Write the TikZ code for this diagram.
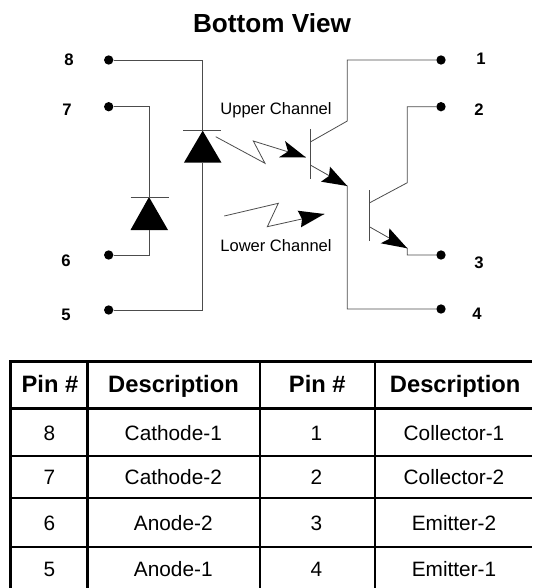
\documentclass[tikz,border=0pt]{standalone}
\usepackage{fontspec}
\setmainfont{Liberation Sans}
\usetikzlibrary{positioning, calc}

\begin{document}
\begin{tikzpicture}[x=0.75pt, y=-0.75pt, thin]
  \tikzstyle{wire} = [draw=black!70, line width=0.6pt]
  \tikzstyle{pin} = [circle, fill=black, inner sep=0pt, minimum size=7pt]
  \tikzstyle{pinnum} = [font=\bfseries\fontsize{12.5}{12.5}\selectfont, inner sep=0pt]
  \tikzstyle{chan} = [font=\fontsize{12.4}{13}\selectfont, inner sep=0pt]
  \tikzstyle{heavy} = [draw=black, line width=2pt]
  \tikzstyle{grid} = [draw=black, line width=1.4pt]
  \tikzstyle{cell} = [font=\fontsize{15.6}{16}\selectfont, inner sep=0pt, text height=11.2pt, text depth=0pt]
  \tikzstyle{head} = [font=\bfseries\fontsize{17.8}{18}\selectfont, inner sep=0pt, text height=12.8pt, text depth=0pt]

  \useasboundingbox (0,0) rectangle (532,588);

  \node[font=\bfseries\fontsize{19.6}{20}\selectfont, inner sep=0pt] (Title) at (272,23) {Bottom View};

  % pins
  \node[pin] (P8) at (108.7,60) {};
  \node[pin] (P7) at (108.7,106.7) {};
  \node[pin] (P6) at (108.7,255) {};
  \node[pin] (P5) at (108.7,310) {};
  \node[pin] (P1) at (441,60) {};
  \node[pin] (P2) at (441,106.7) {};
  \node[pin] (P3) at (441,255) {};
  \node[pin] (P4) at (441,309) {};
  \node[pinnum] (N8) at (69,60) {8};
  \node[pinnum] (N7) at (67,110) {7};
  \node[pinnum] (N6) at (66,261) {6};
  \node[pinnum] (N5) at (66,315) {5};
  \node[pinnum] (N1) at (481,59) {1};
  \node[pinnum] (N2) at (479,110) {2};
  \node[pinnum] (N3) at (479,263) {3};
  \node[pinnum] (N4) at (477,314) {4};

  % diodes
  \coordinate (D1k) at (202.7,130.7);
  \coordinate (D1a) at (202.7,162.7);
  \coordinate (D2k) at (149,197);
  \coordinate (D2a) at (149,230);
  \fill (D1k) -- (221.5,162.7) -- (183.9,162.7) -- cycle;
  \fill (D2k) -- (168,230) -- (130.5,230) -- cycle;
  \draw[wire] (183,130.7) -- (221,130.7);
  \draw[wire] (130.7,197) -- (168.5,197);
  \draw[wire] (P8) -| (D1k);
  \draw[wire] (P5) -| (D1a);
  \draw[wire] (P7) -| (D2k);
  \draw[wire] (P6) -| (D2a);

  % upper transistor
  \coordinate (Qa) at (347.3,121);
  \coordinate (Qe) at (347.3,186);
  \draw[wire] (310.3,129) -- (310.3,179);
  \draw[wire] (310.3,142) -- (Qa) |- (P1);
  \draw[wire] (310.3,165) -- (Qe) |- (P4);
  \fill (Qe) -- (321,181.7) -- (329,176) -- (330,166.7) -- cycle;

  % lower transistor
  \coordinate (Qb) at (407.3,182.7);
  \coordinate (Qf) at (407.3,248.3);
  \draw[wire] (369.3,190) -- (369.3,241);
  \draw[wire] (369.3,203) -- (Qb) |- (P2);
  \draw[wire] (369.3,226.7) -- (Qf) |- (P3);
  \fill (Qf) -- (380.7,243.3) -- (389,239) -- (389.3,228.3) -- cycle;

  % light
  \coordinate (LUend) at (305.7,157.3);
  \coordinate (LLend) at (324.3,214);
  \draw[wire] (215.7,136.7) -- (265,163.3) -- (253.3,141) -- (LUend);
  \fill (LUend) -- (279,157.3) -- (288,151.5) -- (285,141) -- cycle;
  \draw[wire] (224.3,216) -- (278.3,203.3) -- (267.3,226.7) -- (LLend);
  \fill (LLend) -- (297.7,210.7) -- (302,219) -- (301,227.3) -- cycle;
  \node[chan] (Upper) at (276,110.7) {Upper Channel};
  \node[chan] (Lower) at (276,246) {Lower Channel};

  % table
  \foreach \yy in {361.7,408.3}
    \draw[heavy] (9,\yy) -- (532,\yy);
  \foreach \yy in {455.7,497.7,546.7}
    \draw[grid] (10,\yy) -- (532,\yy);
  \foreach \xx in {10.3,87.7}
    \draw[heavy] (\xx,360.3) -- (\xx,588);
  \foreach \xx in {260,374.7}
    \draw[grid] (\xx,360.3) -- (\xx,588);

  \node[head] (H1) at (50,384.3) {Pin \#};
  \node[head] (H2) at (173.5,384.3) {Description};
  \node[head] (H3) at (317.3,384.3) {Pin \#};
  \node[head] (H4) at (455.2,384.3) {Description};
  \foreach \yy/\pa/\da/\pb/\db in {432.7/8/Cathode-1/1/Collector-1,
      476.7/7/Cathode-2/2/Collector-2,
      523.3/6/Anode-2/3/Emitter-2,
      568.7/5/Anode-1/4/Emitter-1} {
    \node[cell] (Ca\pa) at (49.3,\yy) {\pa};
    \node[cell] (Da\pa) at (173.3,\yy) {\da};
    \node[cell] (Cb\pb) at (316.3,\yy) {\pb};
    \node[cell] (Db\pb) at (454,\yy) {\db};
  }
\end{tikzpicture}
\end{document}
